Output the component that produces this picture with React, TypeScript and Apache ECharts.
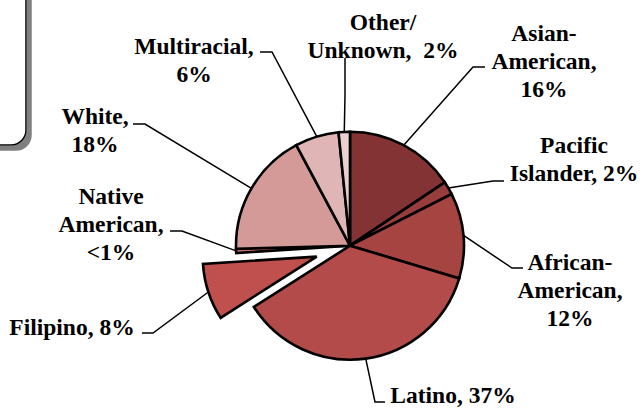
import React, { useEffect, useRef } from "react";
import * as echarts from "echarts";

// ---- data ----
const categories = [
  "Asian-American",
  "Pacific Islander",
  "African-American",
  "Latino",
  "Filipino",
  "Native American",
  "White",
  "Multiracial",
  "Other/Unknown",
];
const values = [15.6, 1.9, 12.1, 36.3, 8.0, 0.6, 17.6, 6.2, 1.6];
const labelTexts = [
  "Asian-\nAmerican,\n16%",
  "Pacific\nIslander, 2%",
  "African-\nAmerican,\n12%",
  "Latino, 37%",
  "Filipino, 8%",
  "Native\nAmerican,\n<1%",
  "White,\n18%",
  "Multiracial,\n6%",
  "Other/\nUnknown,  2%",
];
const explodedCategory = "Filipino";

// ---- styles / layout ----
const COLORS = [
  "#843334",
  "#983d3c",
  "#a64441",
  "#b24b49",
  "#c0504d",
  "#c96a67",
  "#d49a98",
  "#dfb6b5",
  "#eacfcf",
];
const CX = 350;
const CY = 245.7;
const R = 114;
const OFFSET = 35;
// label block centre
const LABEL_POS: number[][] = [
  [544, 61],
  [574, 158.5],
  [570, 290],
  [453, 395],
  [72, 327],
  [111, 224],
  [95, 130],
  [194, 60],
  [383, 36],
];
// leader line elbow and end
const LINE_ELBOW: number[][] = [
  [473, 67],
  [493, 181],
  [512, 268],
  [375, 402],
  [153, 333],
  [182, 231],
  [145, 124],
  [272, 52],
  [345, 95],
];
const LINE_END: number[][] = [
  [485, 67],
  [504, 181],
  [523, 268],
  [385, 402],
  [142, 333],
  [170, 231],
  [133, 124],
  [260, 52],
  [345, 58],
];

const total = values.reduce((a, b) => a + b, 0);
function midAngle(i: number): number {
  let before = 0;
  for (let k = 0; k < i; k++) before += values[k];
  return ((before + values[i] / 2) / total) * Math.PI * 2;
}
const explodedIndex = categories.indexOf(explodedCategory);
const EX_DX = OFFSET * Math.sin(midAngle(explodedIndex));
const EX_DY = -OFFSET * Math.cos(midAngle(explodedIndex));

function edgePoint(i: number): number[] {
  const mid = midAngle(i);
  const ox = i === explodedIndex ? EX_DX : 0;
  const oy = i === explodedIndex ? EX_DY : 0;
  return [CX + ox + R * Math.sin(mid), CY + oy - R * Math.cos(mid)];
}

export default function App() {
  const ref = useRef<HTMLDivElement>(null);
  useEffect(() => {
    if (!ref.current) return;
    const chart = echarts.init(ref.current, undefined, { renderer: "svg" });
    const font = "'Liberation Serif', 'Times New Roman', Times, serif";
    const common = {
      type: "pie",
      radius: R,
      startAngle: 90,
      clockwise: true,
      avoidLabelOverlap: false,
      emphasis: { disabled: true },
    };
    chart.setOption({
      animation: false,
      backgroundColor: "#ffffff",
      graphic: [
        {
          type: "rect",
          shape: { x: -20, y: -20, width: 46, height: 165, r: 15 },
          style: {
            fill: "#ffffff",
            stroke: "#000000",
            lineWidth: 1.5,
            shadowBlur: 1,
            shadowOffsetX: 5,
            shadowOffsetY: 5,
            shadowColor: "#808080",
          },
          z: 10,
        },
      ],
      series: [
        {
          ...common,
          center: [CX, CY],
          itemStyle: {
            borderColor: "#000000",
            borderWidth: 2.6,
            borderJoin: "miter",
          },
          label: {
            show: true,
            position: "outside",
            formatter: (p: any) => labelTexts[p.dataIndex],
            color: "#000000",
            fontFamily: font,
            fontWeight: "bold",
            fontSize: 23.5,
            lineHeight: 28,
            align: "center",
          },
          labelLine: {
            show: true,
            length: 10,
            length2: 10,
            lineStyle: { color: "#000000", width: 1.5 },
          },
          labelLayout: (params: any) => {
            const i = params.dataIndex;
            return {
              x: LABEL_POS[i][0],
              y: LABEL_POS[i][1],
              align: "center",
              verticalAlign: "middle",
              labelLinePoints: [edgePoint(i), LINE_ELBOW[i], LINE_END[i]],
            };
          },
          data: categories.map((name, i) => ({
            name,
            value: values[i],
            itemStyle:
              i === explodedIndex
                ? { color: "rgba(0,0,0,0)", borderWidth: 0 }
                : { color: COLORS[i] },
          })),
        },
        {
          ...common,
          center: [CX + EX_DX, CY + EX_DY],
          silent: true,
          label: { show: false },
          labelLine: { show: false },
          itemStyle: {
            borderColor: "#000000",
            borderWidth: 2.6,
            borderJoin: "miter",
          },
          data: categories.map((name, i) => ({
            name,
            value: values[i],
            itemStyle:
              i === explodedIndex
                ? { color: COLORS[i] }
                : { color: "rgba(0,0,0,0)", borderWidth: 0 },
          })),
        },
      ],
    });
    return () => chart.dispose();
  }, []);
  return (
    <div
      ref={ref}
      style={{ position: "absolute", left: 0, top: 0, width: 644, height: 409 }}
    />
  );
}
